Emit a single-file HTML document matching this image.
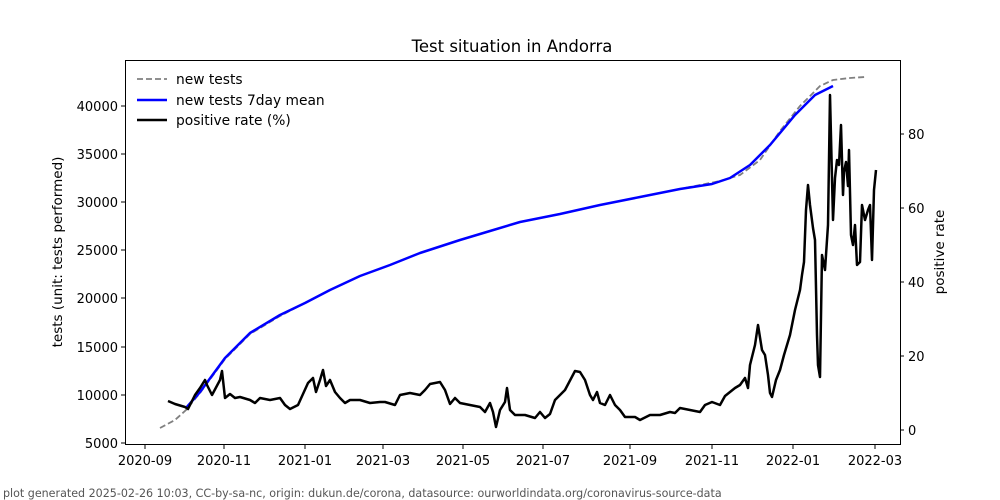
<!DOCTYPE html>
<html><head><meta charset="utf-8"><style>body{margin:0;background:#fff}svg{display:block;font-family:"DejaVu Sans","Liberation Sans",sans-serif}</style></head><body>
<svg width="1000" height="500" viewBox="0 0 1000 500" xmlns="http://www.w3.org/2000/svg">
<rect width="1000" height="500" fill="#fff"/>
<text x="512" y="52" font-size="16.5" text-anchor="middle">Test situation in Andorra</text>
<rect x="125.5" y="60.5" width="775" height="384" fill="none" stroke="#000" stroke-width="1"/>
<g font-size="13" text-anchor="end">
<g stroke="#000"><line x1="121" x2="125" y1="106" y2="106"/><line x1="121" x2="125" y1="154" y2="154"/><line x1="121" x2="125" y1="202" y2="202"/><line x1="121" x2="125" y1="250" y2="250"/><line x1="121" x2="125" y1="298" y2="298"/><line x1="121" x2="125" y1="347" y2="347"/><line x1="121" x2="125" y1="395" y2="395"/><line x1="121" x2="125" y1="443" y2="443"/></g>
<text x="118" y="111">40000</text><text x="118" y="159">35000</text><text x="118" y="207">30000</text><text x="118" y="255">25000</text><text x="118" y="303">20000</text><text x="118" y="352">15000</text><text x="118" y="400">10000</text><text x="118" y="448">5000</text>
</g>
<g font-size="13">
<g stroke="#000"><line x1="900" x2="904" y1="430" y2="430"/><line x1="900" x2="904" y1="356" y2="356"/><line x1="900" x2="904" y1="282" y2="282"/><line x1="900" x2="904" y1="208" y2="208"/><line x1="900" x2="904" y1="134" y2="134"/></g>
<text x="908" y="435">0</text><text x="908" y="361">20</text><text x="908" y="287">40</text><text x="908" y="213">60</text><text x="908" y="139">80</text>
</g>
<g font-size="13" text-anchor="middle">
<g stroke="#000"><line y1="445" y2="449" x1="145" x2="145"/><line y1="445" y2="449" x1="224" x2="224"/><line y1="445" y2="449" x1="305" x2="305"/><line y1="445" y2="449" x1="383" x2="383"/><line y1="445" y2="449" x1="463" x2="463"/><line y1="445" y2="449" x1="543" x2="543"/><line y1="445" y2="449" x1="630" x2="630"/><line y1="445" y2="449" x1="712" x2="712"/><line y1="445" y2="449" x1="793" x2="793"/><line y1="445" y2="449" x1="875" x2="875"/></g>
<text x="145" y="465">2020-09</text><text x="224" y="465">2020-11</text><text x="305" y="465">2021-01</text><text x="383" y="465">2021-03</text><text x="463" y="465">2021-05</text><text x="543" y="465">2021-07</text><text x="630" y="465">2021-09</text><text x="712" y="465">2021-11</text><text x="793" y="465">2022-01</text><text x="875" y="465">2022-03</text>
</g>
<text font-size="13.5" transform="translate(62,252) rotate(-90)" text-anchor="middle">tests (unit: tests performed)</text>
<text font-size="13.5" transform="translate(944,252) rotate(-90)" text-anchor="middle">positive rate</text>
<polyline fill="none" stroke="#808080" stroke-width="1.8" stroke-dasharray="6,3" points="160,428 175,420 186,410 200,393 225,359 250,334 280,316 305,303 330,290 360,276 390,265 420,253 460,240 490,231 520,222 560,214 600,205 640,197 680,189 720,181 740,175 760,160 780,131 800,106 820,86 833,80 850,78 865,77"/>
<polyline fill="none" stroke="#0000ff" stroke-width="2.5" stroke-linejoin="round" points="186,408 200,392 225,358 250,333 280,315 305,303 330,290 360,276 390,265 420,253 460,240 490,231 520,222 560,214 600,205 640,197 680,189 712,184 730,178 750,165 770,145 795,115 815,95 833,86"/>
<polyline fill="none" stroke="#000" stroke-width="2.5" stroke-linejoin="round" points="168,401 175,404 185,407 188,409 195,395 200,388 205,380 207,385 212,395 220,380 222,371 225,398 230,394 235,398 240,397 250,400 255,403 260,398 270,400 280,398 285,405 290,409 298,405 303,394 308,383 313,378 316,392 320,380 323,370 326,386 330,380 335,392 340,398 345,403 350,400 360,400 370,403 380,402 385,402 395,405 400,395 410,393 420,395 425,390 430,384 440,382 445,390 450,404 455,398 460,403 470,405 480,407 485,412 490,403 493,412 496,427 500,410 505,402 507,388 510,410 515,415 525,415 535,418 540,412 545,418 550,414 555,400 565,390 575,371 580,372 585,380 590,395 593,400 597,392 600,403 605,405 610,395 615,405 620,410 625,417 635,417 640,420 650,415 660,415 670,412 675,413 680,408 690,410 700,412 705,405 712,402 720,405 725,396 730,392 735,388 740,385 745,378 748,388 750,365 755,345 758,325 762,350 765,355 768,375 770,393 772,397 776,380 780,370 784,355 790,335 795,310 800,290 802,275 804,262 806,210 808,185 810,205 813,228 815,240 817,335 818,365 820,377 822,255 825,270 828,225 830,95 833,220 835,178 837,160 839,165 841,125 843,195 844,172 846,162 848,186 849,150 851,235 853,245 855,225 857,265 860,262 862,205 865,220 868,210 870,205 872,260 874,190 876,170"/>
<g font-size="13.8">
<line x1="137" x2="167" y1="79" y2="79" stroke="#808080" stroke-width="1.8" stroke-dasharray="6,3"/><text x="176" y="84">new tests</text>
<line x1="137" x2="167" y1="100" y2="100" stroke="#0000ff" stroke-width="2.5"/><text x="176" y="105">new tests 7day mean</text>
<line x1="137" x2="167" y1="120" y2="120" stroke="#000" stroke-width="2.5"/><text x="176" y="125">positive rate (%)</text>
</g>
<text x="3" y="497" font-size="11.1" fill="#555">plot generated 2025-02-26 10:03, CC-by-sa-nc, origin: dukun.de/corona, datasource: ourworldindata.org/coronavirus-source-data</text>
</svg>
</body></html>
